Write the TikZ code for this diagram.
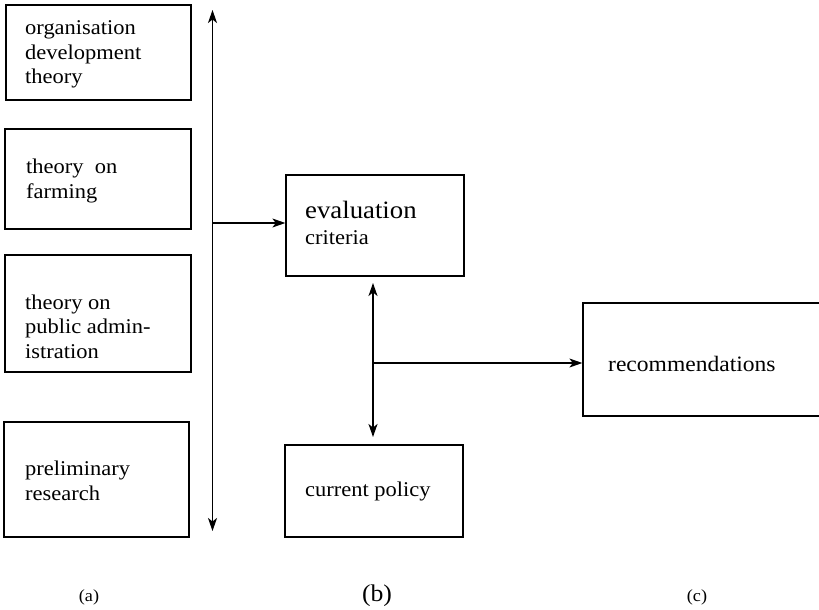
\documentclass[tikz,border=0pt]{standalone}
\usepackage{fontspec}
\setmainfont{Liberation Serif}[FakeStretch=1.07]
\usetikzlibrary{arrows.meta}
\begin{document}
\begin{tikzpicture}[x=1pt,y=-1pt,
  box/.style={draw,line width=1.3pt,rectangle,inner sep=0pt},
  txt/.style={anchor=base west,inner sep=0pt,align=left,font=\fontsize{21}{24.5}\selectfont},
  conn/.style={line width=1.2pt},
  arrowend/.style={-{Stealth[length=13pt,width=9pt,inset=3.5pt]}},
  twoends/.style={{Stealth[length=13pt,width=9pt,inset=3.5pt]}-{Stealth[length=13pt,width=9pt,inset=3.5pt]}},
  captxt/.style={anchor=base,inner sep=0pt}]
\useasboundingbox (0,0) rectangle (819,610);
\fill[white] (0,0) rectangle (819,610);

% left column of sources
\node[box,minimum width=185pt,minimum height=95pt] (org) at (98.5,52.5) {};
\node[box,minimum width=186pt,minimum height=100pt] (farm) at (98,179) {};
\node[box,minimum width=186pt,minimum height=117pt] (pub) at (98,313.5) {};
\node[box,minimum width=185pt,minimum height=115pt] (pre) at (96.5,479.5) {};

\node[txt] (orgt) at (25,84) {organisation\\development\\theory};
\node[txt] (farmt) at (26,198) {theory\ \ on\\farming};
\node[txt] (pubt) at (25,358) {theory on\\public admin-\\istration};
\node[txt] (pret) at (25,500) {preliminary\\research};

% centre column
\node[box,minimum width=178pt,minimum height=101pt] (eval) at (375,225.5) {};
\node[box,minimum width=178pt,minimum height=92pt] (cur) at (374,491) {};
\node[txt,font=\fontsize{25}{25}\selectfont] (evalt) at (305,218) {evaluation};
\node[txt] (critt) at (305,244) {criteria};
\node[txt] (curt) at (305,496) {current policy};

% recommendations box, running off the right edge
\node[box,minimum width=250pt,minimum height=113pt] (rec) at (708,359.5) {};
\node[txt,font=\fontsize{22}{24.5}\selectfont] (rect) at (608,371) {recommendations};

% collecting bar
\coordinate (bartop) at (212.5,10);
\coordinate (barbot) at (212.5,531);
\coordinate (barmid) at (212.5,223);
\draw[conn,twoends] (barbot) -- (bartop);
\draw[conn,arrowend] (barmid) -- (eval.west |- barmid);

% link between criteria and policy
\coordinate (vtop) at (373,283);
\coordinate (vbot) at (373,437);
\coordinate (vmid) at (373,363);
\draw[conn,twoends] (vbot) -- (vtop);
\draw[conn,arrowend] (vmid) -- (rec.west |- vmid);

% captions
\node[captxt,font=\fontsize{17}{18}\selectfont] (ca) at (89,601) {(a)};
\node[captxt,font=\fontsize{24}{26}\selectfont] (cb) at (377,601) {(b)};
\node[captxt,font=\fontsize{17}{18}\selectfont] (cc) at (697,601) {(c)};
\end{tikzpicture}
\end{document}
